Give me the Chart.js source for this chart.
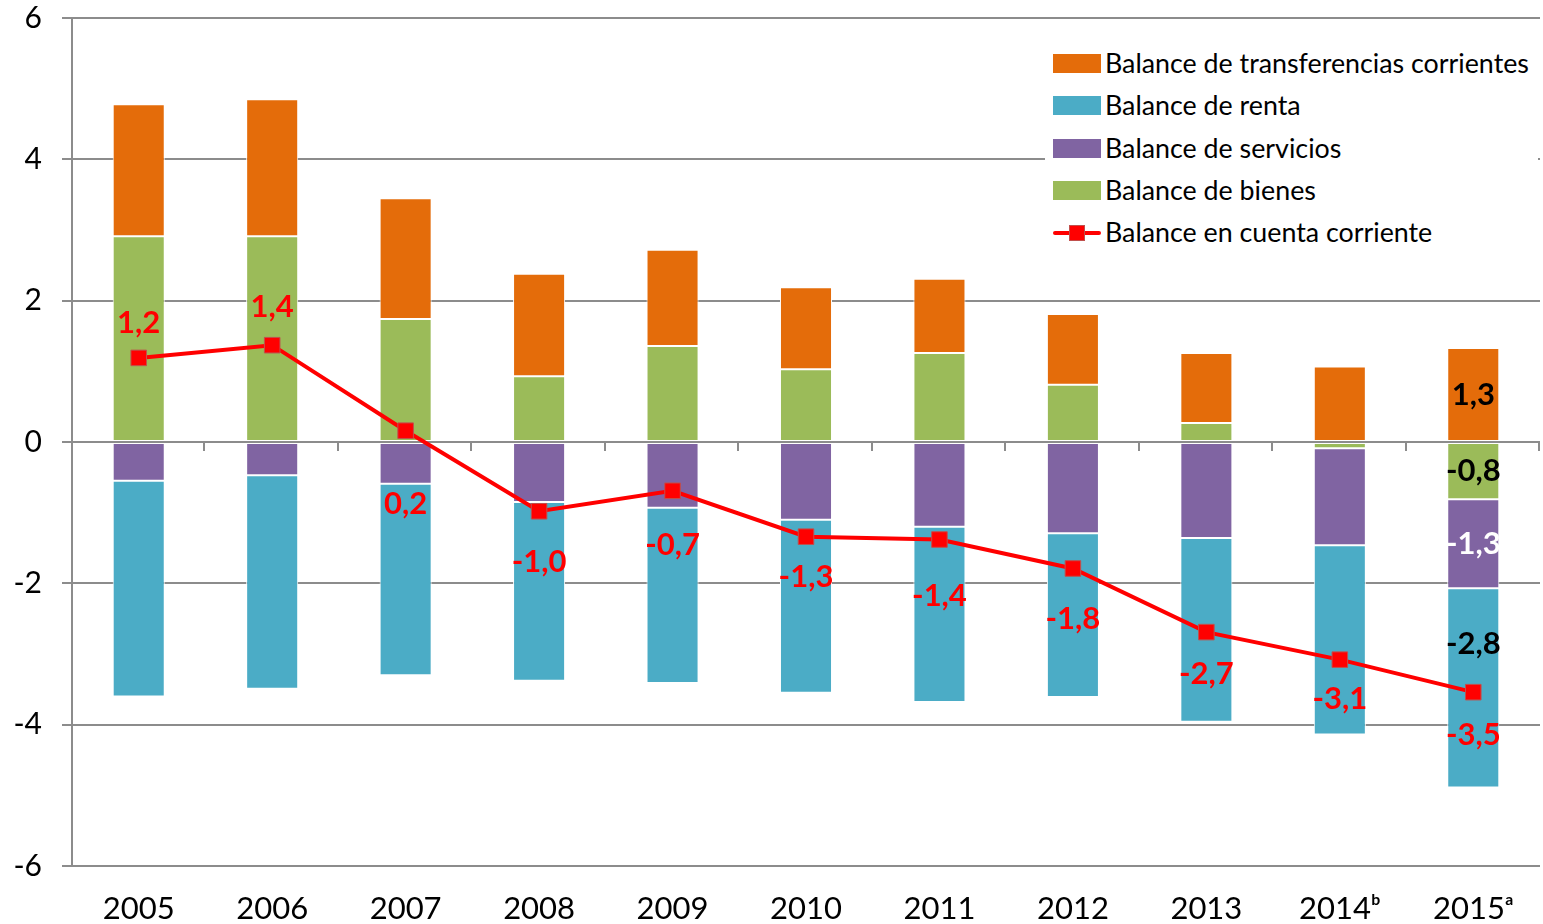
<!DOCTYPE html>
<html>
<head>
<meta charset="utf-8">
<script src="https://cdn.jsdelivr.net/npm/chart.js@4"></script>
<style>
  body { margin: 0; background: #fff; }
  #wrap { position: relative; width: 1543px; height: 924px; }
  #legend {
    position: absolute; left: 1045px; top: 38px; width: 493px; height: 216px;
    background: #fff; font-family: Lato, sans-serif; font-size: 26.8px; color: #000;
  }
  .item { position: absolute; left: 8px; height: 30px; display: flex; align-items: center; }
  .box { width: 48px; height: 19px; margin-right: 4px; }
  .lineKey { position: relative; width: 48px; height: 19px; margin-right: 4px; }
  .lineKey:before { content: ''; position: absolute; left: 0; right: 0; top: 8px; height: 4px; background: #ff0000; border-radius: 2px; }
  .lineKey:after { content: ''; position: absolute; left: 16px; top: 2px; width: 14px; height: 14px; background: #ff0000; border: 1px solid #c0504d; }
</style>
</head>
<body>
<div id="wrap">
  <canvas id="balanceChart" width="1543" height="924"></canvas>
  <div id="legend">
    <div class="item" style="top:10px"><div class="box" style="background:#e46c0a"></div>Balance de transferencias corrientes</div>
    <div class="item" style="top:52px"><div class="box" style="background:#4bacc6"></div>Balance de renta</div>
    <div class="item" style="top:95px"><div class="box" style="background:#8064a2"></div>Balance de servicios</div>
    <div class="item" style="top:137px"><div class="box" style="background:#9bbb59"></div>Balance de bienes</div>
    <div class="item" style="top:179px"><div class="lineKey"></div>Balance en cuenta corriente</div>
  </div>
</div>
<script>
// Data
const years = ['2005', '2006', '2007', '2008', '2009', '2010', '2011', '2012', '2013', '2014\u1D47', '2015\u1D43'];
const bienes = [2.91, 2.91, 1.74, 0.93, 1.36, 1.03, 1.26, 0.81, 0.27, -0.09, -0.81];
const servicios = [-0.55, -0.47, -0.59, -0.85, -0.93, -1.10, -1.20, -1.29, -1.36, -1.37, -1.26];
const renta = [-3.05, -3.02, -2.71, -2.53, -2.48, -2.45, -2.48, -2.32, -2.60, -2.68, -2.82];
const transferencias = [1.87, 1.94, 1.71, 1.45, 1.36, 1.16, 1.05, 1.00, 0.99, 1.07, 1.33];
const cuentaCorriente = [1.19, 1.37, 0.16, -0.98, -0.69, -1.34, -1.38, -1.79, -2.69, -3.08, -3.54];
const yTicks = [-6, -4, -2, 0, 2, 4, 6];

// label offsets (px) for the red line labels, and for the 2015 segment labels
const lineLabelOffsets = [-35, -38, 73, 51, 54, 40, 56, 51, 42, 39, 43];
const segLabelOffsets = [0, 0, -44, 0]; // bienes, servicios, renta, transferencias

const GRID = '#8c8c8c';
const fmt = v => v.toFixed(1).replace('.', ',');

// Small tick marks along the zero line, between categories
const zeroTicks = {
  id: 'zeroTicks',
  beforeDatasetsDraw(chart) {
    const { ctx, chartArea, scales } = chart;
    const y0 = scales.y.getPixelForValue(0);
    const step = (chartArea.right - chartArea.left) / years.length;
    ctx.save();
    ctx.strokeStyle = GRID;
    ctx.lineWidth = 2;
    for (let i = 1; i <= years.length; i++) {
      const x = Math.round(chartArea.left + step * i) - 1;
      ctx.beginPath();
      ctx.moveTo(x, y0);
      ctx.lineTo(x, y0 + 9);
      ctx.stroke();
    }
    ctx.restore();
  }
};

// Value labels: red on the line, plus the 2015 bar segments
const valueLabels = {
  id: 'valueLabels',
  afterDatasetsDraw(chart) {
    const { ctx } = chart;
    ctx.save();
    ctx.font = 'bold 31px Lato, sans-serif';
    ctx.textAlign = 'center';
    ctx.textBaseline = 'middle';

    // 2015 segments
    const last = years.length - 1;
    const segColors = ['#000', '#fff', '#000', '#000'];
    [0, 1, 2, 3].forEach(di => {
      const el = chart.getDatasetMeta(di).data[last];
      const v = chart.data.datasets[di].data[last];
      ctx.fillStyle = segColors[di];
      ctx.fillText(fmt(v), el.x, (el.y + el.base) / 2 + segLabelOffsets[di]);
    });

    // line labels
    const lineMeta = chart.getDatasetMeta(4);
    ctx.fillStyle = '#ff0000';
    lineMeta.data.forEach((pt, i) => {
      ctx.fillText(fmt(cuentaCorriente[i]), pt.x, pt.y + lineLabelOffsets[i]);
    });
    ctx.restore();
  }
};

const barStyle = { borderColor: '#ffffff', borderWidth: 1, borderSkipped: false, order: 2 };

const ctx = document.getElementById('balanceChart');
const balanceChart = new Chart(ctx, {
  type: 'bar',
  data: {
    labels: years,
    datasets: [
      { label: 'Balance de bienes', data: bienes, backgroundColor: '#9bbb59', ...barStyle },
      { label: 'Balance de servicios', data: servicios, backgroundColor: '#8064a2', ...barStyle },
      { label: 'Balance de renta', data: renta, backgroundColor: '#4bacc6', ...barStyle },
      { label: 'Balance de transferencias corrientes', data: transferencias, backgroundColor: '#e46c0a', ...barStyle },
      {
        type: 'line',
        label: 'Balance en cuenta corriente',
        data: cuentaCorriente,
        borderColor: '#ff0000',
        borderWidth: 4,
        pointStyle: 'rect',
        pointRadius: 11,
        pointBackgroundColor: '#ff0000',
        pointBorderColor: '#c0504d',
        pointBorderWidth: 1,
        tension: 0,
        order: 1,
        stack: 'line'
      }
    ]
  },
  options: {
    responsive: false,
    animation: false,
    layout: { autoPadding: false, padding: { top: 18, right: 3, left: 0, bottom: 0 } },
    plugins: {
      legend: { display: false },
      tooltip: { enabled: false }
    },
    datasets: {
      bar: { barPercentage: 0.39, categoryPercentage: 1 }
    },
    scales: {
      x: {
        stacked: true,
        grid: { display: false, drawTicks: false },
        border: { display: false },
        ticks: {
          color: '#000',
          padding: 24,
          font: { family: 'Lato, sans-serif', size: 31 },
          maxRotation: 0
        },
        afterFit(scale) {
          scale.height = 58;
          scale.paddingLeft = 0;
          scale.paddingRight = 0;
        }
      },
      y: {
        stacked: true,
        min: -6,
        max: 6,
        afterBuildTicks(scale) { scale.ticks = yTicks.map(v => ({ value: v })); },
        grid: { color: GRID, lineWidth: 2, tickLength: 10, tickColor: GRID },
        border: { display: true, color: GRID, width: 2 },
        ticks: {
          color: '#000',
          padding: 20,
          font: { family: 'Lato, sans-serif', size: 30 },
          callback: v => String(v)
        },
        afterFit(scale) {
          scale.width = 72;
          scale.paddingTop = 0;
          scale.paddingBottom = 0;
        }
      }
    }
  },
  plugins: [zeroTicks, valueLabels]
});
</script>
</body>
</html>
